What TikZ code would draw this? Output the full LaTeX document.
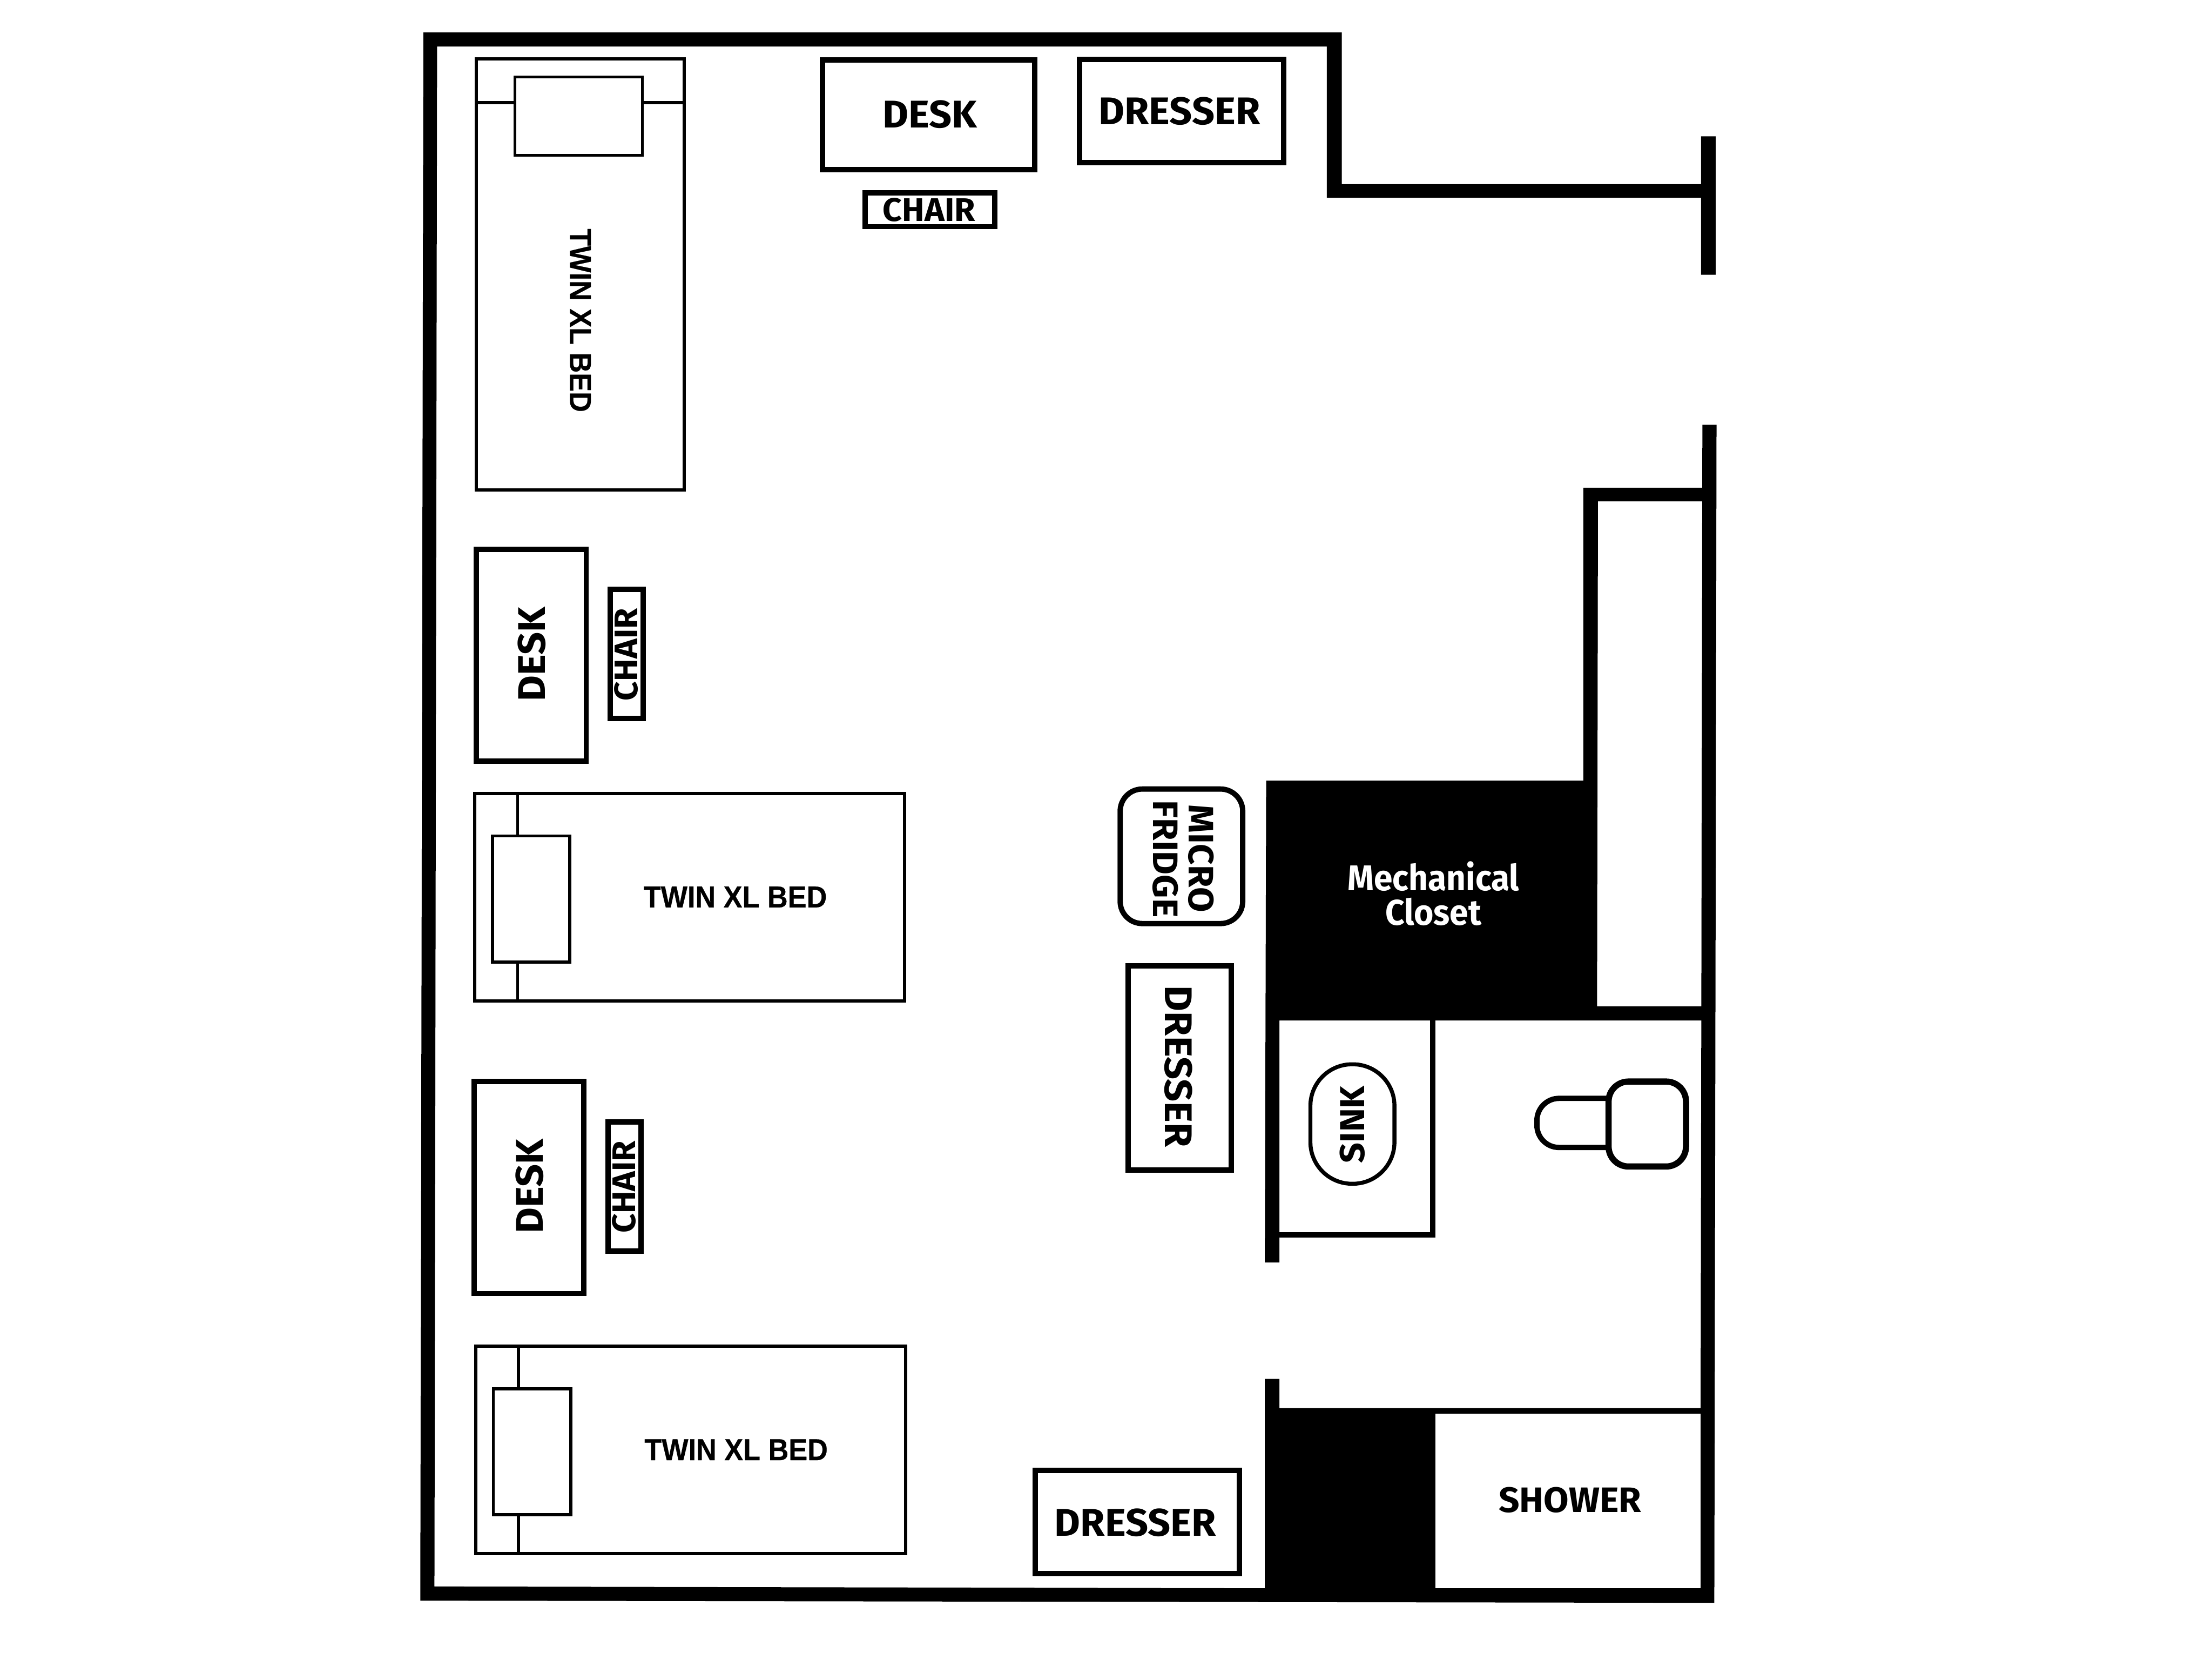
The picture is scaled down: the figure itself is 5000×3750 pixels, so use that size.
\documentclass[tikz,border=0pt]{standalone}
\usepackage{fontspec}
\newfontfamily\planfont{Fira Sans}[FakeStretch=1.03]
\newfontfamily\mechfont{Fira Sans}[FakeStretch=0.94]
\newfontfamily\bedfont{Liberation Sans}[FakeStretch=0.93, BoldFeatures={FakeBold=0.4}]
\usetikzlibrary{positioning}
\tikzset{
  wall/.style={fill=black},
  furn/.style={draw=black, line width=0.12cm},
  bedline/.style={draw=black, line width=0.07cm},
  tag/.style={inner sep=0pt, font=\planfont\bfseries\fontsize{#1}{#1}\selectfont},
  mechtag/.style={inner sep=0pt, text=white, font=\mechfont\bfseries\fontsize{23}{23}\selectfont},
  bedtag/.style={inner sep=0pt, font=\bedfont\bfseries\fontsize{19.5}{19.5}\selectfont}
}

\begin{document}
\begin{tikzpicture}[x=0.01cm, y=-0.01cm]
  \useasboundingbox[fill=white] (0,0) rectangle (5000,3750);

  % Outer walls, door jamb, bath end wall
  \fill[wall] (957,73) -- (3033,73) -- (3033,416) -- (3845,416) -- (3845,308) -- (3878,308)
    -- (3878,621) -- (3845,621) -- (3845,447) -- (2999,447) -- (2999,105) -- (988,105)
    -- (982,3585) -- (2859,3589) -- (2859,3116) -- (2892,3116) -- (2892,3182) -- (3844,3182)
    -- (3848,960) -- (3880,960) -- (3875,3622) -- (950,3617) -- cycle;

  % Closet block and inner walls
  \fill[wall] (2862,1764) -- (3579,1764) -- (3579,1102) -- (3848,1102) -- (3848,1133)
    -- (3612,1133) -- (3610,2274) -- (3847,2274) -- (3847,2306) -- (2892,2306)
    -- (2892,2853) -- (2859,2853) -- cycle;
  \node[mechtag] (mechA) at (3240,1980) {Mechanical};
  \node[mechtag] (mechB) at (3240,2060) {Closet};

  % Shower
  \fill[white] (3244,3194) rectangle (3844,3589);
  \node[tag=22.7] (shower) at (3549,3390) {SHOWER};

  % Sink counter
  \draw[furn] (3238,2306) -- (3238,2790) -- (2892,2790);
  \draw[draw=black, line width=0.09cm, rounded corners=0.94cm] (2962,2405) rectangle (3152,2675);
  \node[tag=22.3, rotate=90] (sink) at (3057,2541) {SINK};

  % Toilet
  \draw[furn, rounded corners=0.5cm] (3633,2482) -- (3474,2482) -- (3474,2593) -- (3633,2593);
  \draw[furn, line width=0.14cm, fill=white, rounded corners=0.45cm] (3636,2444) rectangle (3811,2636);

  % Top row
  \draw[furn] (1859,135) rectangle (2339,383);
  \node[tag=24.8] (deskA) at (2102,259) {DESK};
  \draw[furn] (1956,436) rectangle (2248,512);
  \node[tag=21] (chairA) at (2100,474) {CHAIR};
  \draw[furn] (2440,134) rectangle (2902,367);
  \node[tag=24.8] (dresserA) at (2666,251) {DRESSER};

  % Bed along the top of the left wall
  \draw[bedline] (1077,133) rectangle (1547,1107);
  \draw[bedline] (1164,174) rectangle (1452,351);
  \draw[bedline] (1077,232) -- (1164,232);
  \draw[bedline] (1452,232) -- (1547,232);
  \node[bedtag, rotate=-90] (bedA) at (1312,724) {TWIN XL BED};

  % Desk and chair, middle
  \begin{scope}
    \draw[furn] (1077,1241) rectangle (1325,1720);
    \node[tag=24.8, rotate=90] (deskB) at (1202,1478) {DESK};
    \draw[furn] (1379,1332) rectangle (1454,1624);
    \node[tag=21, rotate=90] (chairB) at (1415,1479) {CHAIR};
  \end{scope}

  % Desk and chair, lower
  \begin{scope}[shift={(-5,1203)}]
    \draw[furn] (1077,1241) rectangle (1325,1720);
    \node[tag=24.8, rotate=90] (deskC) at (1202,1478) {DESK};
    \draw[furn] (1379,1332) rectangle (1454,1624);
    \node[tag=21, rotate=90] (chairC) at (1415,1479) {CHAIR};
  \end{scope}

  % Bed, middle
  \begin{scope}
    \draw[bedline] (1073,1793) rectangle (2045,2262);
    \draw[bedline] (1113,1889) rectangle (1288,2174);
    \draw[bedline] (1170,1793) -- (1170,1889);
    \draw[bedline] (1170,2174) -- (1170,2262);
    \node[bedtag] (bedB) at (1662,2027) {TWIN XL BED};
  \end{scope}

  % Bed, lower
  \begin{scope}[shift={(2,1249)}]
    \draw[bedline] (1073,1793) rectangle (2045,2262);
    \draw[bedline] (1113,1889) rectangle (1288,2174);
    \draw[bedline] (1170,1793) -- (1170,1889);
    \draw[bedline] (1170,2174) -- (1170,2262);
    \node[bedtag] (bedC) at (1662,2027) {TWIN XL BED};
  \end{scope}

  % Micro fridge and the other two dressers
  \draw[furn, rounded corners=0.5cm] (2532,1783) rectangle (2809,2087);
  \node[tag=22.7, rotate=-90] (micro) at (2715,1940) {MICRO};
  \node[tag=22.7, rotate=-90] (fridge) at (2634,1941) {FRIDGE};
  \draw[furn] (2550,2183) rectangle (2783,2644);
  \node[tag=24.8, rotate=-90] (dresserB) at (2664,2410) {DRESSER};
  \draw[furn] (2340,3323) rectangle (2801,3556);
  \node[tag=24.8] (dresserC) at (2566,3441) {DRESSER};
\end{tikzpicture}
\end{document}
